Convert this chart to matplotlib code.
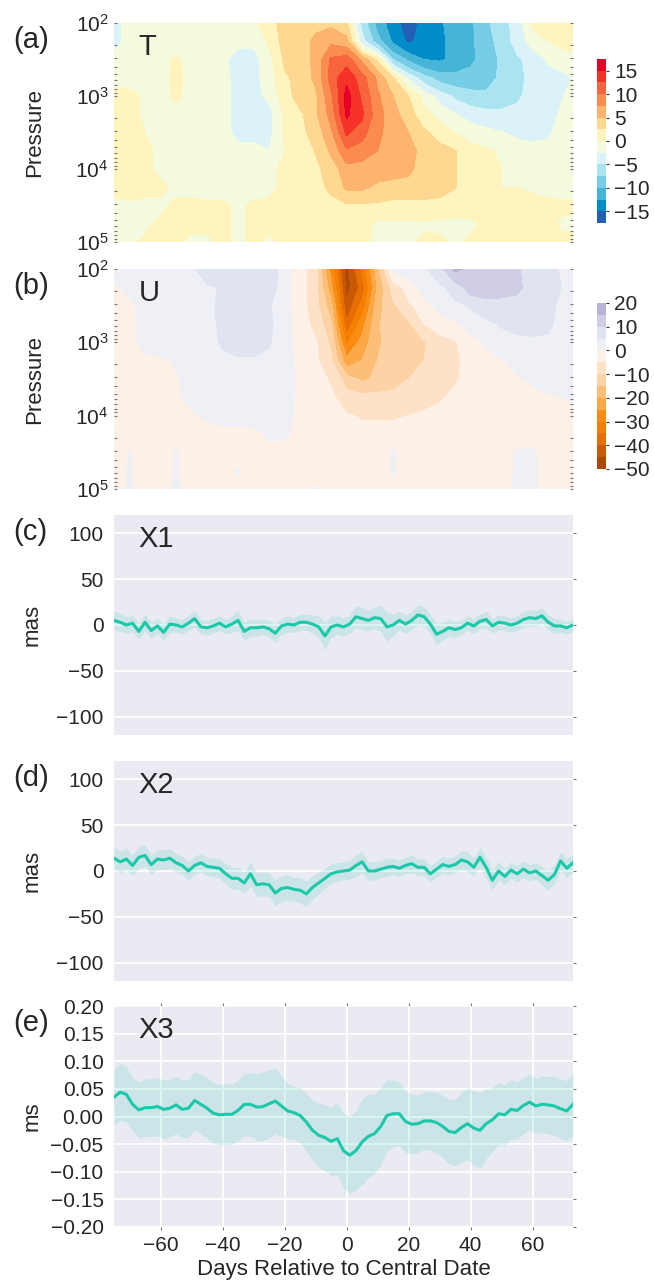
import numpy as np
import matplotlib
matplotlib.use("Agg")
import matplotlib.pyplot as plt

# === CONFIG ===
plt.rcParams['font.family'] = ['Liberation Sans', 'DejaVu Sans']
plt.rcParams['mathtext.fontset'] = 'custom'
plt.rcParams['mathtext.rm'] = 'Liberation Sans'
plt.rcParams['mathtext.it'] = 'Liberation Sans:italic'
plt.rcParams['text.color'] = '#262626'
plt.rcParams['axes.labelcolor'] = '#262626'
plt.rcParams['xtick.color'] = '#262626'
plt.rcParams['ytick.color'] = '#262626'

TEAL = '#1bc8a9'
BG = '#EAEAF2'
TICK_FS = 15
LABEL_FS = 16
NAME_FS = 21

# === 1) Contour fields (days x log10 pressure) ===
grid_days = [-75, -70, -65, -60, -55, -50, -45, -40, -35, -30, -25, -20, -15, -10, -5, 0,
             5, 10, 15, 20, 25, 30, 35, 40, 45, 50, 55, 60, 65, 70, 75]
log_pressure = [2.0, 2.25, 2.5, 2.75, 3.0, 3.25, 3.5, 3.75, 4.0, 4.25, 4.5, 4.75, 5.0]

# temperature anomaly, one row per pressure level (top -> bottom)
t_anom = [
    [-3.5, -1.5, -1, -0.5, -1, -1, -0.5, -1, -1, -0.5, 1.5, 3.5, 4, 4.5, 4.5, 3, -6, -11, -14, -16.5, -14, -13, -11, -10.5, -8, -6, -4, 0.5, 1, 1.5, 1.5],
    [-3.5, -1.5, -1, -0.5, -1, -1, -1.5, -1.5, -2, -2, 0.5, 3.5, 4, 5.5, 7, 6, -4, -9, -13, -15.5, -14, -13.5, -11, -10.5, -8.5, -6.5, -4, -1.5, 0, 1, 1],
    [-1.5, -1, -0.5, -1, 0.5, -1, -1, -2, -3.5, -3.5, -1, 3, 4, 5.5, 10.5, 11.5, 7, 2, -7.5, -10.5, -12.5, -12.8, -12, -10.5, -9, -7, -5.5, -4, -2.2, -1.5, -1],
    [-1, -1, -1, -1, 0.8, -1, -1, -1.5, -3.5, -3.5, -1, 2, 3.5, 5.5, 11, 14.5, 11, 7, 2.5, -3, -6.5, -8.5, -9, -9, -8.5, -7, -6, -4, -3.5, -3, -2],
    [1, 0.8, -0.5, -1, 0.5, -1, -1, -1.5, -3.5, -3.2, -2, 1.5, 3.5, 4.5, 9.5, 16, 12, 8, 5, 2.5, -1, -3.5, -5.5, -6.5, -7, -6.5, -5.5, -4, -3.5, -2.5, -1.5],
    [1.5, 1, -0.5, -0.5, -1, -1, -1, -1.5, -3.5, -3, -3.5, 0.5, 2, 4.5, 8.5, 15.5, 13, 8.5, 6, 3.5, 1, -1, -2.3, -3.5, -4, -4.2, -4, -3.8, -3.3, -2, -1],
    [1.5, 1, 0, -0.5, -1, -1, -1, -1.5, -3.3, -3, -3.3, 0.5, 1.8, 3.5, 7, 13, 11, 8, 6.5, 5, 3, 1.5, 0, -1, -1.8, -2.4, -2.8, -2.9, -2.8, -1.5, -1],
    [1.5, 1.5, 0.5, -0.5, -1, -1, -1, -1, -1.5, -2, -2.4, 0, 1.5, 2.6, 5.5, 9.5, 8.5, 7.5, 7, 6, 4, 3.5, 2.6, 1, 0.5, -0.5, -1.8, -2, -1.8, -0.5, -0.5],
    [1.5, 1.5, 0.5, -0.5, -1, -1, -1, -1, -1, -1, -0.5, 0.5, 1.5, 2, 3.5, 6.5, 6.5, 6, 6, 5.5, 4, 4, 2.6, 1, 0.5, 0, -0.5, -0.7, -0.7, -0.5, -0.5],
    [1, 1, 0.5, 0.5, -0.5, -1, -1, -1, -1, -1, -0.5, 0.5, 1.5, 2, 2.8, 5.5, 5.5, 4.5, 4, 4, 4, 3.8, 2.6, 1.5, 0.5, 0, 0, -0.2, -0.5, -0.5, -0.5],
    [-1, -0.5, -0.5, -0.5, 0.5, 1, 0.5, 0.5, -0.5, 0.5, 0.5, 1, 1.5, 1.5, 2, 2, 2, 2, 1.5, 1.5, 1.5, 1.2, 1, 1, 1, 0.8, 0.5, 0.5, 0.5, 0.3, 0.3],
    [-1, -1, -0.5, 0.5, 0.8, 0.5, 0.5, 0.5, -0.5, 0.5, 0.5, 1, 1, 1, 1, 1, 1, -0.5, -0.5, -0.5, -0.3, -0.5, -0.5, -0.5, 0.5, 0.5, 0.5, 0.3, 0.3, -0.3, -0.3],
    [-0.5, -0.5, 0.5, 0.5, 0.5, -0.5, -0.5, 0.5, -0.5, 0.5, -0.5, 0.5, 0.5, 0.5, 0.5, 0.5, 0.5, -0.5, -0.5, -0.5, 0.5, 0.5, -0.5, 0.5, 0.5, 0.5, 0.5, 0.5, 0.5, 0.5, 0.5],
]

# zonal wind anomaly, same grid
u_anom = [
    [2, 2.5, 2.5, 3, 3, 3.5, 9, 5.5, 8, 8.5, 9, 2, -3, -8, -27, -48, -34, -17, 1, 3, 4, 8, 16, 14, 12.5, 12, 10.5, 8, 7, 4, 3],
    [-1, 2, 2.5, 3, 3, 3.5, 4, 5.5, 8, 8, 8, 2, -3, -8, -23, -47, -38, -19, -8, -3, 2.5, 4, 7, 12.5, 12.5, 12, 11, 8, 7.5, 4.5, 3],
    [-2, -1.5, 2.5, 3, 3, 3, 4, 6, 7.5, 7.5, 5.5, 2, -3, -8, -18, -44, -33, -17, -11, -6, -2.5, 2, 4, 5.5, 8, 8, 8, 7.5, 7, 3, 2.5],
    [-2, -1.5, 2, 2.5, 2.5, 3, 3.5, 6, 7, 7, 6, 2, -2.5, -6.5, -14, -39, -27, -16, -11, -11, -5, -3, -1, 2, 3.5, 5.5, 6.5, 6.5, 6, 3, 2.5],
    [-2, -2, 2, 2.5, 2.5, 3, 3.5, 5.5, 6.5, 6.5, 5.5, 2, -2, -4.5, -11, -31, -23, -16, -12, -11.5, -10.5, -7, -5.5, -2, 0.5, 2.5, 3.5, 4, 4, 2.5, 2],
    [-2, -2, -1.5, -1, 0.5, 2.5, 3, 4, 4.5, 4.5, 3.5, 2, -1.5, -4, -9, -23, -20, -15, -12.5, -12, -10, -8, -6, -3, -1.5, -0.3, 1.5, 2.5, 2.5, 2.5, 2],
    [-2, -2, -1.5, -1.5, -0.5, 1.5, 2.5, 3, 3, 3, 2.5, 2, -1, -3.5, -5.5, -12.5, -16, -14, -12.5, -10, -8.5, -7.5, -5.5, -3.5, -2.5, -1.5, -0.5, 0.5, 1.5, 2, 2],
    [-2, -2, -2, -1.5, -0.5, 1, 1.5, 2, 2, 2, 2, 1.5, -1, -2.5, -4, -7.5, -8, -8, -8, -7.5, -7, -5.5, -4, -3, -2.5, -2, -1.5, -1, -0.5, 0, 0.5],
    [-2, -2, -2, -1.5, -1, -0.5, 0.5, 1, 1, 1.5, 1.5, 1.5, -1, -2, -3, -4.5, -5.5, -5.5, -5.5, -5, -4, -3.5, -3, -2.5, -2.5, -2, -2, -2, -1.5, -1, -0.5],
    [-2, -1.5, -2, -2, -1.5, -2, -1.5, -1, -1, -1, 0.5, 0.5, -1, -2, -2.5, -3, -3, -3, -3, -3, -2.5, -2.5, -2.5, -2.5, -2, -2, -2, -1.5, -1.5, -1.5, -1.5],
    [-2, 0.3, -2, -1.5, 0.3, -1.5, -1.5, -1, -1.5, -1, -1, -1.5, -1.5, -2, -2, -2, -2, -2, 0.5, -2, -2, -2, -1.5, -2, -2, -1.5, 0.5, 0.5, -1.5, -1.5, -1.5],
    [-1.5, 0.3, -2, -1.5, 0.3, -1.5, -1, -1, 0.3, -1, -1.5, -1.5, -1.5, -1.5, -1.5, -1.5, -1.5, -1.5, 0.3, -1.5, -1.5, -1.5, -1.5, -1.5, -1.5, -1.5, 0.5, 0.5, -1, -1, -1],
    [-1, 0.3, -1, -1, 0.3, -1, -1, -1, -1, -1, -1, -1, -1, 0.3, -1, -1, -1, -1, -1, -1, -1, -1, -1, -1, -1, -1, 0.5, 0.5, -1, -1, -1],
]

T_LEVELS = np.arange(-17.5, 17.6, 2.5)
T_COLORS = ['#235fb4', '#008cc8', '#46b4d7', '#78cde6', '#aae4f0', '#daf2f8', '#f3fade',
            '#fff3be', '#fed791', '#fdb46e', '#fa8c50', '#f8643c', '#f53228', '#e60028']
T_TICKS = [-15, -10, -5, 0, 5, 10, 15]

U_LEVELS = np.arange(-50, 20.1, 5)
U_COLORS = ['#aa4b0a', '#c85a05', '#e66e05', '#f58000', '#fa8c14', '#fca846', '#fdbe78',
            '#fdd2a5', '#fde2c8', '#fdf0e6', '#eef0f5', '#e0e3f0', '#d0cee6', '#b8b4d8']
U_TICKS = [-50, -40, -30, -20, -10, 0, 10, 20]

# === 2) Time series (every 2 days) ===
days = np.arange(-75, 74, 2)

x1_mean = [5, 3, 0, 2, -7, 3, -6, -1, -8, 1,
           0, -2, 2, 7, -2, -3, -1, 2, -2, 1,
           5, -7, -3, -3, -2, -4, -9, -1, 1, 0,
           3, 3, 1, -2, -12, -2, 0, -2, 1, 9,
           7, 5, 8, 7, -2, 0, 5, 1, 5, 11,
           9, 1, -10, -7, -3, -5, -3, 2, -1, 4,
           6, -1, 3, 2, 0, 2, 6, 8, 7, 10,
           3, -1, -1, -3, 0]
x1_spread = [10, 10, 9, 9, 9, 9, 9, 8, 9, 9,
             8, 8, 8, 9, 8, 8, 8, 8, 8, 9,
             11, 10, 9, 9, 8, 9, 10, 9, 9, 8,
             9, 9, 10, 12, 15, 12, 10, 10, 10, 12,
             12, 11, 12, 14, 16, 12, 10, 10, 10, 11,
             11, 10, 12, 10, 9, 9, 8, 8, 8, 8,
             9, 8, 8, 8, 8, 8, 9, 9, 9, 9,
             8, 8, 7, 7, 7]

x2_mean = [14, 10, 13, 6, 15, 17, 7, 13, 12, 14,
           9, 6, 0, 6, 9, 5, 4, 3, -3, -8,
           -8, -13, -3, -15, -14, -15, -24, -19, -18, -20,
           -21, -25, -18, -13, -8, -3, -1, 0, 1, 6,
           10, 0, 0, 2, 4, 5, 3, 6, 8, 4,
           4, -3, 2, 7, 5, 7, 12, 10, 4, 15,
           4, -10, 0, -6, 1, -3, 2, -2, 0, -5,
           -10, -4, 11, 3, 9]
x2_spread = [12, 12, 12, 11, 12, 12, 11, 11, 11, 11,
             10, 10, 10, 10, 10, 10, 10, 11, 11, 12,
             12, 12, 13, 13, 13, 13, 14, 14, 14, 13,
             14, 14, 13, 12, 11, 11, 10, 10, 10, 12,
             12, 10, 10, 9, 10, 9, 9, 9, 10, 9,
             9, 9, 9, 9, 9, 9, 10, 11, 10, 11,
             11, 11, 10, 9, 9, 9, 9, 9, 9, 10,
             11, 10, 10, 10, 10]

x3_mean = [0.035, 0.044, 0.040, 0.022, 0.012, 0.016, 0.016, 0.018, 0.013, 0.015,
           0.021, 0.013, 0.015, 0.029, 0.022, 0.015, 0.006, 0.003, 0.004, 0.004,
           0.011, 0.022, 0.022, 0.017, 0.018, 0.023, 0.028, 0.019, 0.010, 0.007,
           0.002, -0.010, -0.025, -0.034, -0.038, -0.045, -0.040, -0.062, -0.070, -0.062,
           -0.046, -0.036, -0.031, -0.018, 0.002, 0.005, 0.005, -0.009, -0.014, -0.013,
           -0.008, -0.008, -0.011, -0.018, -0.027, -0.029, -0.020, -0.013, -0.021, -0.025,
           -0.013, -0.006, 0.005, 0.003, 0.013, 0.011, 0.020, 0.026, 0.019, 0.022,
           0.021, 0.019, 0.014, 0.010, 0.022]
x3_spread = [0.050, 0.052, 0.050, 0.048, 0.050, 0.052, 0.052, 0.053, 0.053, 0.052,
             0.052, 0.052, 0.053, 0.053, 0.054, 0.055, 0.055, 0.055, 0.055, 0.055,
             0.055, 0.056, 0.058, 0.060, 0.062, 0.062, 0.060, 0.055, 0.050, 0.048,
             0.050, 0.052, 0.055, 0.058, 0.060, 0.062, 0.065, 0.068, 0.069, 0.072,
             0.078, 0.076, 0.072, 0.070, 0.065, 0.060, 0.058, 0.056, 0.054, 0.052,
             0.052, 0.053, 0.055, 0.057, 0.059, 0.060, 0.062, 0.065, 0.068, 0.069,
             0.063, 0.058, 0.056, 0.055, 0.054, 0.052, 0.051, 0.050, 0.050, 0.051,
             0.052, 0.053, 0.054, 0.055, 0.057]

# === 3) Figure layout (pixel boxes of the reference) ===
W, H = 654, 1282
fig = plt.figure(figsize=(W / 100, H / 100), dpi=100)


def box(left, top, right, bottom):
    return [left / W, 1 - bottom / H, (right - left) / W, (bottom - top) / H]


XL, XR = 114, 573
panel_tops = [23, 269, 515, 761, 1006]
panel_bots = [242, 489, 735, 981, 1227]
axes = [fig.add_axes(box(XL, t, XR, b)) for t, b in zip(panel_tops, panel_bots)]

for lab, t in zip(['(a)', '(b)', '(c)', '(d)', '(e)'], panel_tops):
    fig.text(13 / W, 1 - (t + 17) / H, lab, fontsize=NAME_FS, va='center', ha='left')

# === 4) Contour panels ===
pressure = 10 ** np.array(log_pressure)
DX, PY = np.meshgrid(grid_days, pressure)

contour_specs = [
    (axes[0], t_anom, T_LEVELS, T_COLORS, T_TICKS, 'T', box(597, 59, 606, 223)),
    (axes[1], u_anom, U_LEVELS, U_COLORS, U_TICKS, 'U', box(597, 303, 606, 469)),
]
for ax, field, levels, colors, cticks, name, cbox in contour_specs:
    cs = ax.contourf(DX, PY, np.array(field), levels=levels, colors=colors)
    ax.set_yscale('log')
    ax.set_ylim(1e5, 1e2)
    ax.set_xlim(-75, 73)
    ax.set_xticks([])
    for sp in ax.spines.values():
        sp.set_visible(False)
    ax.tick_params(axis='y', which='both', left=True, right=True, direction='in',
                   length=2.5, width=0.8, color='#777777', labelsize=TICK_FS, pad=4)
    ax.set_ylabel('Pressure', fontsize=LABEL_FS)
    ax.yaxis.set_label_coords(-0.15, 0.5)
    ax.text(0.054, 0.955, name, transform=ax.transAxes, fontsize=NAME_FS, va='top', ha='left')

    cax = fig.add_axes(cbox)
    cb = fig.colorbar(cs, cax=cax, ticks=cticks)
    cb.outline.set_visible(False)
    cb.ax.tick_params(labelsize=TICK_FS, length=2, width=0.8, color='#333333', pad=4)

# === 5) Line panels ===
line_specs = [
    (axes[2], x1_mean, x1_spread, 'X1', 'mas', (-120, 120), [-100, -50, 0, 50, 100]),
    (axes[3], x2_mean, x2_spread, 'X2', 'mas', (-120, 120), [-100, -50, 0, 50, 100]),
    (axes[4], x3_mean, x3_spread, 'X3', 'ms', (-0.2, 0.2),
     [-0.2, -0.15, -0.1, -0.05, 0.0, 0.05, 0.1, 0.15, 0.2]),
]
for ax, mean, spread, name, ylab, ylim, yticks in line_specs:
    mean = np.array(mean)
    spread = np.array(spread)
    ax.set_facecolor(BG)
    ax.set_axisbelow(True)
    ax.grid(True, color='white', linewidth=1.3)
    for sp in ax.spines.values():
        sp.set_visible(False)
    ax.fill_between(days, mean - spread, mean + spread, color=TEAL, alpha=0.15, linewidth=0)
    ax.plot(days, mean, color=TEAL, linewidth=2.2)
    ax.set_xlim(-75, 73)
    ax.set_ylim(*ylim)
    ax.set_yticks(yticks)
    ax.tick_params(axis='y', left=False, right=True, length=2.5, width=0.8,
                   color='#777777', labelsize=TICK_FS, pad=5)
    ax.set_ylabel(ylab, fontsize=LABEL_FS)
    ax.yaxis.set_label_coords(-0.155, 0.5)
    ax.text(0.054, 0.955, name, transform=ax.transAxes, fontsize=NAME_FS, va='top', ha='left')

axes[2].set_xticks([])
axes[3].set_xticks([])
axes[4].set_xticks([-60, -40, -20, 0, 20, 40, 60])
axes[4].tick_params(axis='x', top=True, bottom=True, length=2.5, width=0.8,
                    color='#777777', labelsize=TICK_FS, pad=4)
axes[4].set_xlabel('Days Relative to Central Date', fontsize=LABEL_FS, labelpad=3)

fig.savefig('out.png', dpi=100)
print("saved out.png")
